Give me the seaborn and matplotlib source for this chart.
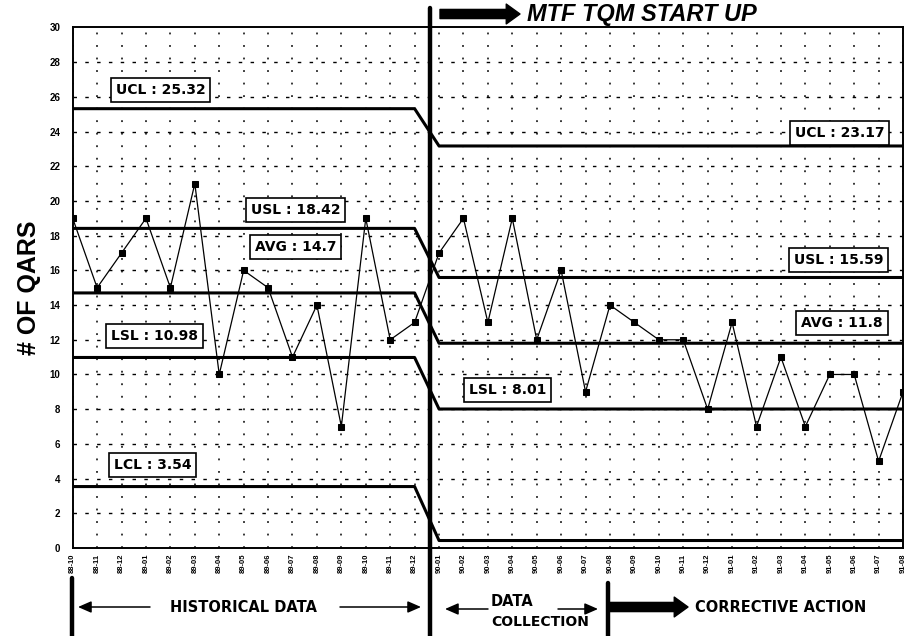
import numpy as np
import pandas as pd
import matplotlib
matplotlib.use("Agg")
import matplotlib.pyplot as plt
import seaborn as sns

# monthly labels (historical 15 + data collection / corrective 20)
months = ["88-10", "88-11", "88-12", "89-01", "89-02", "89-03", "89-04", "89-05",
          "89-06", "89-07", "89-08", "89-09", "89-10", "89-11", "89-12",
          "90-01", "90-02", "90-03", "90-04", "90-05", "90-06", "90-07", "90-08",
          "90-09", "90-10", "90-11", "90-12", "91-01", "91-02", "91-03", "91-04",
          "91-05", "91-06", "91-07", "91-08"]
qars = [19, 15, 17, 19, 15, 21, 10, 16, 15, 11, 14, 7, 19, 12, 13,
        17, 19, 13, 19, 12, 16, 9, 14, 13, 12, 12, 8, 13, 7, 11, 7, 10, 10, 5, 9]

n_hist = 15
ucl = [25.32, 23.17]
usl = [18.42, 15.59]
avg = [14.7, 11.8]
lsl = [10.98, 8.01]
lcl = [3.54, 0.43]

W, H = 918, 636

def fp(x, y):
    # image pixel (from top-left) -> figure fraction
    return (x / W, 1 - y / H)

sns.set_style("white", {"text.color": "black", "axes.labelcolor": "black",
                        "xtick.color": "black", "ytick.color": "black"})
plt.rcParams['font.family'] = ['Liberation Sans', 'DejaVu Sans']
wide = ['DejaVu Sans']

fig = plt.figure(figsize=(W / 100, H / 100), dpi=100)
ax = fig.add_axes([0.0792, 0.1384, 0.9045, 0.8184])

idx = np.arange(len(qars))
df = pd.DataFrame({"i": idx, "qars": qars})

# grid
for xi in idx:
    ax.axvline(xi, color="black", lw=1.1, ls=(0, (1.2, 7)), zorder=0)
for yv in range(2, 30, 2):
    ax.axhline(yv, color="black", lw=1.0, ls=(0, (2.5, 6)), zorder=0)

# control / spec limit lines
for pair in [ucl, usl, avg, lsl, lcl]:
    vals = np.where(idx < n_hist, pair[0], pair[1])
    sns.lineplot(x=idx, y=vals, ax=ax, color="black", lw=2.2, zorder=2)

sns.lineplot(data=df, x="i", y="qars", ax=ax, color="black", lw=0.9,
             marker="s", markersize=5, markeredgecolor="black", zorder=3)

ax.set_xlim(0, len(qars) - 1)
ax.set_ylim(0, 30)
ax.set_yticks(range(0, 31, 2))
ax.set_yticklabels([str(v) for v in range(0, 31, 2)], fontsize=7, fontweight="bold")
ax.set_xticks(idx)
ax.set_xticklabels(months, rotation=90, fontsize=5.5, fontweight="bold")
ax.tick_params(axis="both", length=0, colors="black")
ax.tick_params(axis="y", pad=9)
ax.tick_params(axis="x", pad=4)
ax.set_xlabel("")
ax.set_ylabel("# OF QARS", fontsize=18, fontweight="bold", labelpad=6, color="black")
for s in ax.spines.values():
    s.set_color("black")
    s.set_linewidth(1.4)

# boxed labels
boxes = [
    (f"UCL : {ucl[0]}", 3.6, 26.4), (f"USL : {usl[0]}", 9.13, 19.48),
    (f"AVG : {avg[0]}", 9.13, 17.35), (f"LSL : {lsl[0]}", 3.35, 12.22),
    (f"LCL : {lcl[0]}", 3.27, 4.78), (f"UCL : {ucl[1]}", 31.4, 23.9),
    (f"USL : {usl[1]}", 31.35, 16.6), (f"AVG : {avg[1]}", 31.5, 12.97),
    (f"LSL : {lsl[1]}", 17.8, 9.1),
]
for txt, bx, by in boxes:
    ax.text(bx, by, txt, ha="center", va="center", fontsize=10, fontweight="bold",
            family=wide, color="black", zorder=5,
            bbox=dict(boxstyle="square,pad=0.35", fc="white", ec="black", lw=1.2))

# thick divider at TQM start up
ax.axvline(14.65, ymin=-0.169, ymax=1.037, color="black", lw=3.2, clip_on=False, zorder=6)

# top annotation
thick = dict(arrowstyle="simple,head_width=1.3,head_length=0.9,tail_width=0.6",
             mutation_scale=11, color="black", shrinkA=0, shrinkB=0)
thin = dict(arrowstyle="-|>,head_width=0.35,head_length=0.8", lw=1.1,
            color="black", shrinkA=0, shrinkB=0)
ax.annotate("", xy=fp(520, 14), xytext=fp(440, 14), xycoords="figure fraction",
            textcoords="figure fraction", arrowprops=thick, annotation_clip=False)
fig.text(*fp(527, 14), "MTF TQM START UP", ha="left", va="center", fontsize=17,
         fontweight="bold", fontstyle="italic", color="black")

# bottom annotations
fig.add_artist(plt.Line2D([72 / W, 72 / W], [1 - 578 / H, 0], color="black", lw=3.2))
fig.add_artist(plt.Line2D([608 / W, 608 / W], [1 - 583 / H, 0], color="black", lw=3.2))
ax.annotate("", xy=fp(78, 607), xytext=fp(150, 607), xycoords="figure fraction",
            textcoords="figure fraction", arrowprops=thin, annotation_clip=False)
ax.annotate("", xy=fp(421, 607), xytext=fp(340, 607), xycoords="figure fraction",
            textcoords="figure fraction", arrowprops=thin, annotation_clip=False)
fig.text(*fp(243, 607), "HISTORICAL DATA", ha="center", va="center", fontsize=10.5,
         fontweight="bold", family=wide, color="black")
ax.annotate("", xy=fp(445, 609), xytext=fp(488, 609), xycoords="figure fraction",
            textcoords="figure fraction", arrowprops=thin, annotation_clip=False)
ax.annotate("", xy=fp(598, 609), xytext=fp(558, 609), xycoords="figure fraction",
            textcoords="figure fraction", arrowprops=thin, annotation_clip=False)
fig.text(*fp(491, 601), "DATA", ha="left", va="center", fontsize=10.5,
         fontweight="bold", family=wide, color="black")
fig.text(*fp(491, 622), "COLLECTION", ha="left", va="center", fontsize=10,
         fontweight="bold", family=wide, color="black")
ax.annotate("", xy=fp(688, 607), xytext=fp(610, 607), xycoords="figure fraction",
            textcoords="figure fraction", arrowprops=thick, annotation_clip=False)
fig.text(*fp(695, 607), "CORRECTIVE ACTION", ha="left", va="center", fontsize=10.5,
         fontweight="bold", family=wide, color="black")

fig.savefig("out.png", dpi=100)
